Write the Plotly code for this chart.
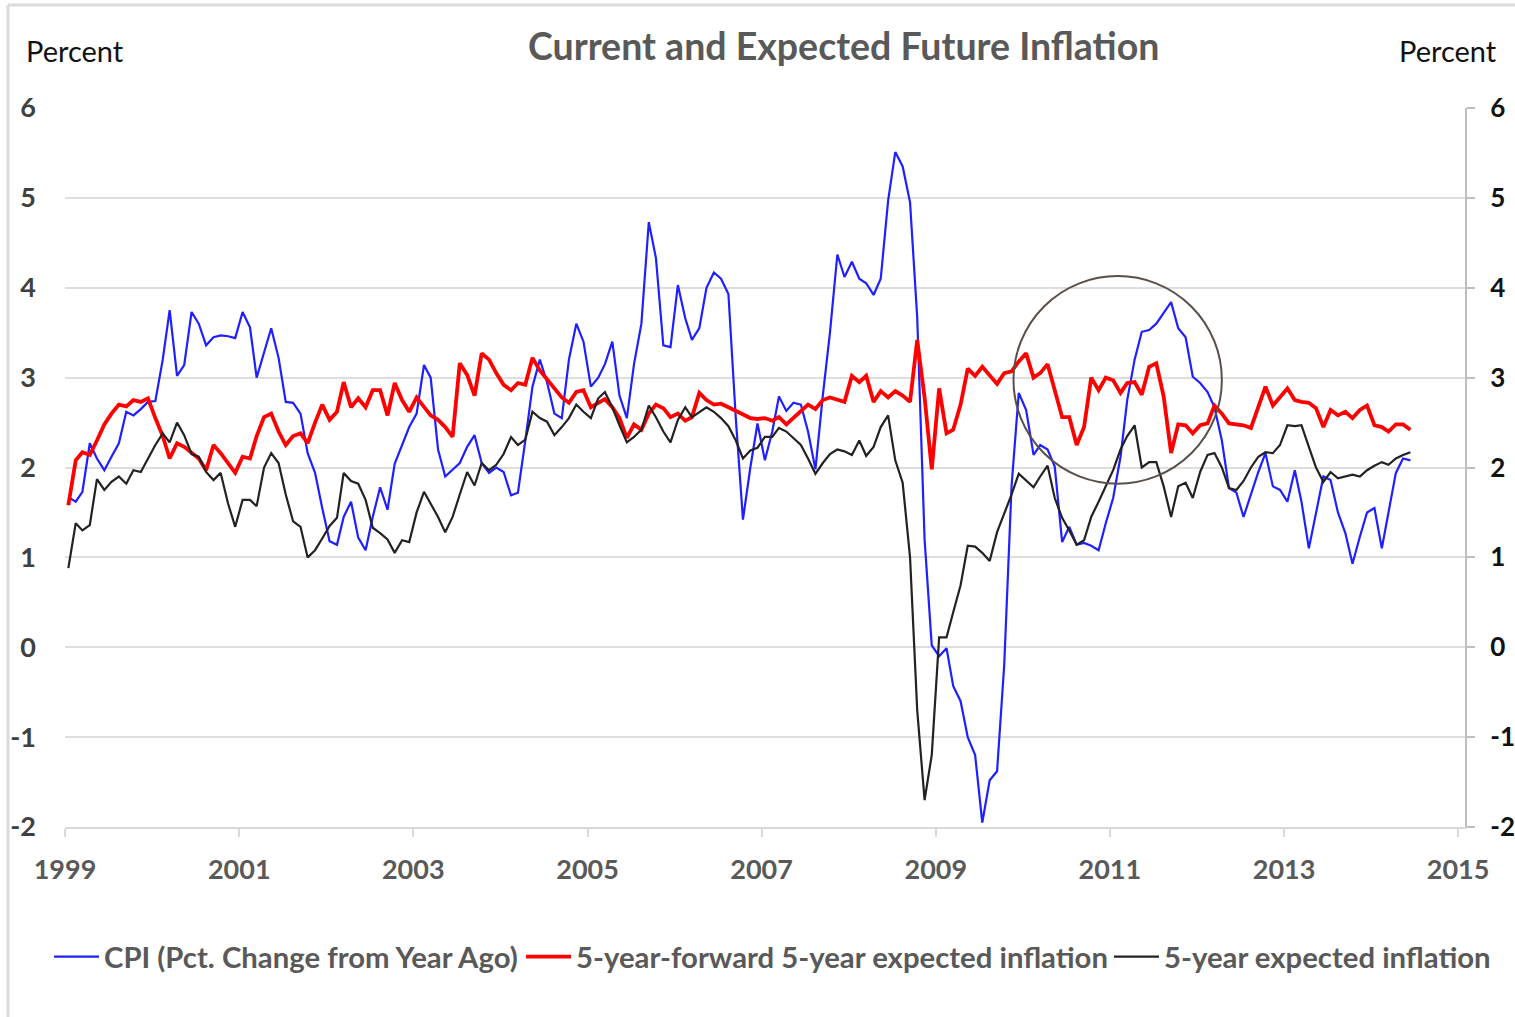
import plotly.graph_objects as go

# ---------------- data (monthly, Jan 1999 - Jun 2014) ----------------
months = [f"{1999 + i // 12}-{i % 12 + 1:02d}-15" for i in range(186)]

cpi = [
    1.67, 1.62, 1.73, 2.27, 2.10, 1.97, 2.12, 2.27, 2.62, 2.58, 2.65, 2.73,   # 1999
    2.74, 3.20, 3.75, 3.02, 3.14, 3.73, 3.60, 3.36, 3.45, 3.47, 3.46, 3.44,   # 2000
    3.73, 3.56, 3.00, 3.28, 3.55, 3.22, 2.73, 2.72, 2.60, 2.16, 1.94, 1.55,   # 2001
    1.18, 1.14, 1.45, 1.62, 1.22, 1.08, 1.45, 1.78, 1.53, 2.04, 2.25, 2.45,   # 2002
    2.60, 3.14, 3.00, 2.20, 1.90, 1.98, 2.05, 2.23, 2.36, 2.05, 1.94, 2.00,   # 2003
    1.95, 1.69, 1.72, 2.30, 2.90, 3.20, 2.95, 2.60, 2.55, 3.20, 3.60, 3.40,   # 2004
    2.90, 3.00, 3.15, 3.40, 2.80, 2.55, 3.15, 3.60, 4.73, 4.33, 3.36, 3.34,   # 2005
    4.03, 3.66, 3.42, 3.55, 4.00, 4.17, 4.10, 3.93, 2.55, 1.42, 2.00, 2.49,   # 2006
    2.08, 2.40, 2.79, 2.63, 2.72, 2.70, 2.40, 1.98, 2.80, 3.50, 4.37, 4.12,   # 2007
    4.29, 4.10, 4.05, 3.92, 4.10, 4.97, 5.51, 5.35, 4.95, 3.67, 1.20, 0.02,   # 2008
    -0.10, -0.01, -0.43, -0.60, -1.00, -1.20, -1.95, -1.48, -1.38, -0.20, 1.80, 2.83,  # 2009
    2.64, 2.14, 2.25, 2.20, 2.01, 1.17, 1.34, 1.14, 1.16, 1.13, 1.08, 1.38,   # 2010
    1.66, 2.12, 2.75, 3.20, 3.51, 3.53, 3.60, 3.72, 3.84, 3.55, 3.45, 3.01,   # 2011
    2.94, 2.84, 2.67, 2.30, 1.77, 1.72, 1.45, 1.70, 1.95, 2.16, 1.79, 1.75,   # 2012
    1.62, 1.97, 1.62, 1.10, 1.50, 1.90, 1.86, 1.50, 1.27, 0.93, 1.23, 1.50,   # 2013
    1.55, 1.10, 1.50, 1.94, 2.10, 2.08,                                       # 2014
]

fwd5y5y = [
    1.58, 2.08, 2.17, 2.14, 2.30, 2.48, 2.60, 2.70, 2.68, 2.75, 2.73, 2.77,   # 1999
    2.55, 2.35, 2.10, 2.27, 2.23, 2.17, 2.10, 1.97, 2.25, 2.16, 2.05, 1.94,   # 2000
    2.12, 2.10, 2.35, 2.56, 2.60, 2.40, 2.25, 2.35, 2.38, 2.27, 2.50, 2.70,   # 2001
    2.53, 2.62, 2.95, 2.67, 2.77, 2.67, 2.86, 2.86, 2.58, 2.94, 2.75, 2.62,   # 2002
    2.78, 2.67, 2.58, 2.53, 2.45, 2.34, 3.16, 3.03, 2.80, 3.27, 3.20, 3.05,   # 2003
    2.92, 2.86, 2.94, 2.92, 3.22, 3.08, 2.98, 2.88, 2.78, 2.72, 2.84, 2.86,   # 2004
    2.67, 2.72, 2.76, 2.67, 2.55, 2.33, 2.48, 2.42, 2.60, 2.70, 2.66, 2.56,   # 2005
    2.60, 2.52, 2.56, 2.83, 2.75, 2.70, 2.71, 2.67, 2.63, 2.60, 2.55, 2.54,   # 2006
    2.55, 2.52, 2.56, 2.48, 2.55, 2.62, 2.70, 2.65, 2.75, 2.78, 2.76, 2.73,   # 2007
    3.02, 2.95, 3.02, 2.73, 2.85, 2.78, 2.85, 2.80, 2.73, 3.42, 2.78, 1.98,   # 2008
    2.88, 2.38, 2.42, 2.70, 3.10, 3.02, 3.12, 3.02, 2.93, 3.05, 3.07, 3.18,   # 2009
    3.27, 3.00, 3.05, 3.15, 2.86, 2.56, 2.56, 2.25, 2.45, 3.00, 2.86, 3.00,   # 2010
    2.97, 2.83, 2.94, 2.95, 2.81, 3.12, 3.16, 2.79, 2.16, 2.48, 2.47, 2.38,   # 2011
    2.47, 2.49, 2.69, 2.60, 2.49, 2.48, 2.47, 2.44, 2.67, 2.90, 2.69, 2.78,   # 2012
    2.88, 2.75, 2.73, 2.72, 2.66, 2.45, 2.64, 2.58, 2.62, 2.55, 2.64, 2.69,   # 2013
    2.47, 2.45, 2.40, 2.48, 2.48, 2.42,                                       # 2014
]

exp5y = [
    0.88, 1.38, 1.30, 1.36, 1.87, 1.75, 1.84, 1.90, 1.82, 1.97, 1.95, 2.10,   # 1999
    2.25, 2.38, 2.28, 2.50, 2.36, 2.15, 2.12, 1.95, 1.86, 1.94, 1.60, 1.34,   # 2000
    1.64, 1.64, 1.57, 2.00, 2.16, 2.05, 1.70, 1.40, 1.34, 1.00, 1.08, 1.21,   # 2001
    1.35, 1.44, 1.94, 1.85, 1.82, 1.64, 1.33, 1.27, 1.20, 1.05, 1.19, 1.17,   # 2002
    1.50, 1.73, 1.60, 1.45, 1.28, 1.45, 1.70, 1.95, 1.80, 2.05, 1.97, 2.03,   # 2003
    2.15, 2.34, 2.25, 2.31, 2.62, 2.55, 2.51, 2.36, 2.45, 2.55, 2.70, 2.62,   # 2004
    2.55, 2.77, 2.84, 2.67, 2.47, 2.28, 2.34, 2.42, 2.69, 2.56, 2.40, 2.28,   # 2005
    2.53, 2.67, 2.56, 2.62, 2.67, 2.62, 2.55, 2.46, 2.30, 2.10, 2.19, 2.22,   # 2006
    2.34, 2.34, 2.44, 2.40, 2.33, 2.25, 2.10, 1.93, 2.05, 2.15, 2.20, 2.18,   # 2007
    2.14, 2.30, 2.13, 2.23, 2.45, 2.58, 2.08, 1.83, 1.00, -0.70, -1.70, -1.20,  # 2008
    0.11, 0.11, 0.39, 0.69, 1.13, 1.12, 1.05, 0.96, 1.28, 1.48, 1.70, 1.93,   # 2009
    1.85, 1.78, 1.90, 2.02, 1.66, 1.44, 1.30, 1.14, 1.19, 1.45, 1.62, 1.80,   # 2010
    1.97, 2.20, 2.35, 2.47, 2.00, 2.06, 2.06, 1.79, 1.45, 1.79, 1.83, 1.66,   # 2011
    1.95, 2.14, 2.16, 2.00, 1.77, 1.75, 1.85, 2.00, 2.12, 2.17, 2.16, 2.25,   # 2012
    2.47, 2.46, 2.47, 2.23, 2.00, 1.84, 1.95, 1.88, 1.90, 1.92, 1.90, 1.97,   # 2013
    2.02, 2.06, 2.03, 2.10, 2.14, 2.17,                                       # 2014
]

series_names = ["CPI (Pct. Change from Year Ago)",
                "5-year-forward 5-year expected inflation",
                "5-year expected inflation"]
y_ticks = [-2, -1, 0, 1, 2, 3, 4, 5, 6]
y_ticktext = ["-2", "-1", "0", "1", "2", "3", "4", "5", "6"]

# ---------------- layout helpers (pixel -> paper) ----------------
W, H = 1515, 1017
L, R, T, B = 65, 1465, 108, 827


def px(x):
    return (x - L) / (R - L)


def py(y):
    return (B - y) / (B - T)


FONT = "Lato"
GRAY = "#595959"

fig = go.Figure()
fig.add_trace(go.Scatter(x=months, y=cpi, name=series_names[0], mode="lines",
                         legend="legend", line=dict(color="#1f1fff", width=2.2)))
fig.add_trace(go.Scatter(x=months, y=fwd5y5y, name=series_names[1], mode="lines",
                         legend="legend2", line=dict(color="#ff0000", width=3.8)))
fig.add_trace(go.Scatter(x=months, y=exp5y, name=series_names[2], mode="lines",
                         legend="legend3", yaxis="y2", line=dict(color="#222222", width=2.2)))


def legend_at(left_px):
    return dict(orientation="h", x=px(left_px), xanchor="left", y=py(957), yanchor="middle",
                font=dict(family=FONT, size=29.3, color=GRAY, weight="bold"),
                itemwidth=45, bgcolor="rgba(0,0,0,0)")


fig.update_layout(
    width=W, height=H,
    margin=dict(l=L, r=W - R, t=T, b=H - B, pad=0, autoexpand=False),
    paper_bgcolor="white", plot_bgcolor="white",
    font=dict(family=FONT, color=GRAY),
    showlegend=True,
    legend=legend_at(49),
    legend2=legend_at(521),
    legend3=legend_at(1109),
    xaxis=dict(type="date", range=["1999-01-01", "2015-01-30"], automargin=False,
               tick0="1999-01-01", dtick="M24", tickformat="%Y",
               showgrid=False, zeroline=False,
               showline=True, linecolor="#d9d9d9", linewidth=2,
               ticks="outside", ticklen=8, tickcolor="#d9d9d9", tickwidth=2,
               ticklabelstandoff=10,
               tickfont=dict(family=FONT, size=27, color=GRAY, weight="bold")),
    yaxis=dict(range=[-2, 6], tickvals=y_ticks, ticktext=y_ticktext, automargin=False,
               showgrid=True, gridcolor="#dedede", gridwidth=2,
               zeroline=False, showline=False,
               ticks="", ticklabelstandoff=28,
               tickfont=dict(family=FONT, size=27, color="#404040", weight="bold")),
    yaxis2=dict(range=[-2, 6], tickvals=y_ticks, ticktext=y_ticktext, automargin=False,
                overlaying="y", side="right",
                showgrid=False, zeroline=False, showline=True,
                linecolor="#bfbfbf", linewidth=2,
                ticks="outside", ticklen=8, tickcolor="#bfbfbf", tickwidth=2,
                ticklabelstandoff=10,
                tickfont=dict(family=FONT, size=26, color="#111111", weight="bold")),
)

# title and axis captions
fig.add_annotation(text="Current and Expected Future Inflation", xref="paper", yref="paper",
                   x=px(843), y=py(46), xanchor="center", yanchor="middle", showarrow=False,
                   font=dict(family=FONT, size=37.5, color=GRAY, weight="bold"))
fig.add_annotation(text="Percent", xref="paper", yref="paper", x=px(24), y=py(50),
                   xanchor="left", yanchor="middle", showarrow=False,
                   font=dict(family=FONT, size=29, color="#111111"))
fig.add_annotation(text="Percent", xref="paper", yref="paper", x=px(1499), y=py(50),
                   xanchor="right", yanchor="middle", showarrow=False,
                   font=dict(family=FONT, size=29, color="#111111"))

# highlight circle around 2010-2012
fig.add_shape(type="circle", xref="x", yref="y",
              x0="2009-11-23", x1="2012-04-15", y0=1.82, y1=4.13,
              line=dict(color="#5a4f48", width=2))

# chart frame (top and left border of the embedded chart)
fig.add_shape(type="line", xref="paper", yref="paper", x0=px(8), x1=px(1515),
              y0=py(5), y1=py(5), line=dict(color="#dcdcdc", width=3))
fig.add_shape(type="line", xref="paper", yref="paper", x0=px(8), x1=px(8),
              y0=py(5), y1=py(1017), line=dict(color="#dcdcdc", width=3))

fig.write_html("out.html", config={"displayModeBar": False},
               post_script="document.body.style.margin='0';")
